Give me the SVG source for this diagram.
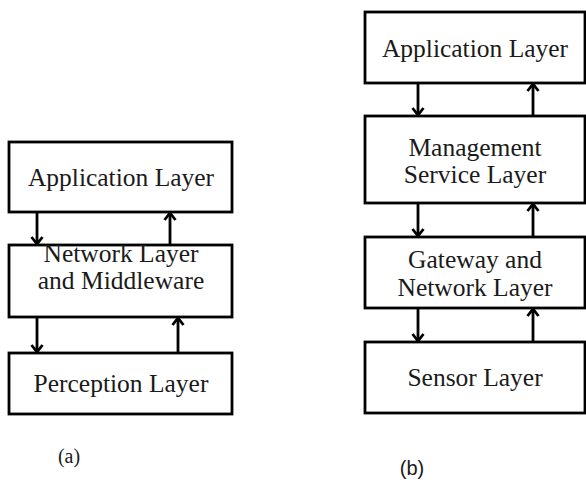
<svg xmlns="http://www.w3.org/2000/svg" width="586" height="494" viewBox="0 0 586 494">
<defs>
<style>
.box{fill:#fff;stroke:#000;stroke-width:2.8}
.t{font-family:"Liberation Serif","Times New Roman",serif;font-size:25.5px;fill:#1a1a1a;text-anchor:middle}
.capa{font-family:"Liberation Serif","Times New Roman",serif;font-size:20px;fill:#1a1a1a;text-anchor:middle}
.capb{font-family:"Liberation Sans",Arial,sans-serif;font-size:20px;fill:#1a1a1a;text-anchor:middle}
.ln{stroke:#000;stroke-width:2.8;fill:none;marker-end:url(#ah)}
</style>
<marker id="ah" viewBox="0 0 10 14" refX="8.5" refY="7" markerWidth="10" markerHeight="14" markerUnits="userSpaceOnUse" orient="auto">
<path d="M1.5,1.5 L8.5,7 L1.5,12.5" fill="none" stroke="#000" stroke-width="2.8"/>
</marker>
</defs>
<g id="a-application"><rect class="box" x="9" y="142" width="223" height="70"/><text class="t" x="121" y="186">Application Layer</text></g>
<g id="a-network"><rect class="box" x="9" y="245" width="223" height="72"/><text class="t" x="121" y="262">Network Layer</text><text class="t" x="121" y="289">and Middleware</text></g>
<g id="a-perception"><rect class="box" x="9" y="353" width="223" height="61"/><text class="t" x="121" y="392">Perception Layer</text></g>
<g id="b-application"><rect class="box" x="365" y="12" width="220" height="71"/><text class="t" x="475" y="57">Application Layer</text></g>
<g id="b-management"><rect class="box" x="365" y="116" width="220" height="87"/><text class="t" x="475" y="156">Management</text><text class="t" x="475" y="183">Service Layer</text></g>
<g id="b-gateway"><rect class="box" x="365" y="237" width="220" height="71"/><text class="t" x="475" y="268">Gateway and</text><text class="t" x="475" y="296">Network Layer</text></g>
<g id="b-sensor"><rect class="box" x="365" y="342" width="220" height="71"/><text class="t" x="475" y="386">Sensor Layer</text></g>
<g id="connectors">
<path class="ln" d="M37,213 V244"/>
<path class="ln" d="M170,244 V213"/>
<path class="ln" d="M37,318 V352"/>
<path class="ln" d="M178,352 V318"/>
<path class="ln" d="M418,84 V115"/>
<path class="ln" d="M533,115 V84"/>
<path class="ln" d="M418,204 V236"/>
<path class="ln" d="M533,236 V204"/>
<path class="ln" d="M418,309 V341"/>
<path class="ln" d="M533,341 V309"/>
</g>
<text class="capa" x="69" y="463">(a)</text>
<text class="capb" x="412" y="475">(b)</text>
</svg>
